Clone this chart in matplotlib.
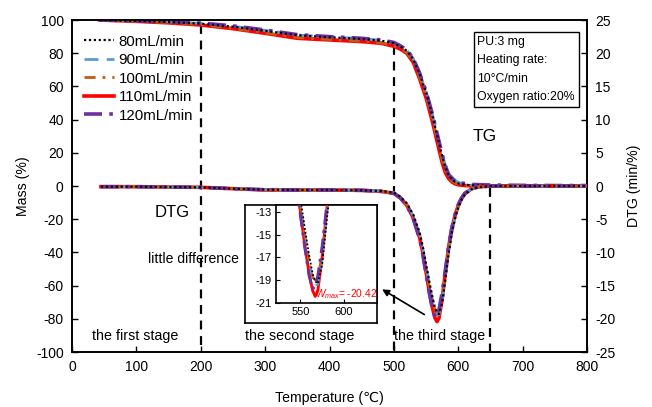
import numpy as np
import matplotlib
matplotlib.use("Agg")
import matplotlib.pyplot as plt

plt.rcParams['font.family'] = ['Liberation Sans', 'DejaVu Sans']
plt.rcParams['axes.unicode_minus'] = False
plt.rcParams['mathtext.fontset'] = 'custom'
plt.rcParams['mathtext.rm'] = 'Liberation Sans'
plt.rcParams['mathtext.it'] = 'Liberation Sans:italic'

# ---- data ----
labels = ['80mL/min', '90mL/min', '100mL/min', '110mL/min', '120mL/min']

# TG (mass %) vs temperature
tg_T = [43, 100, 150, 200, 250, 300, 350, 400, 450, 480, 500, 510, 520, 530, 540,
        550, 560, 570, 575, 580, 585, 590, 595, 600, 610, 620, 650, 700, 750, 800]
tg_80 = [100, 99.5, 98.8, 97.8, 96.0, 93.5, 90.8, 89.6, 88.6, 87.6, 86.0, 84.0, 81.5, 76.5, 67.5,
         56.5, 42.0, 26.0, 18.0, 11.5, 6.5, 4.0, 2.5, 1.5, 0.8, 0.4, 0.2, 0.1, 0.1, 0.1]
tg_90 = [100, 99.5, 98.9, 98.0, 96.2, 93.8, 91.0, 89.8, 88.8, 87.8, 86.3, 84.3, 81.8, 76.8, 68.0,
         57.0, 43.0, 27.0, 19.0, 12.5, 8.0, 5.5, 3.5, 2.2, 1.0, 0.6, 0.3, 0.2, 0.1, 0.1]
tg_100 = [100, 99.3, 98.4, 97.2, 95.0, 92.3, 89.4, 88.3, 87.3, 86.3, 84.5, 82.8, 80.5, 75.0, 65.5,
          54.0, 40.0, 23.5, 15.5, 9.5, 5.5, 3.0, 1.8, 1.0, 0.4, 0.2, 0.1, 0.0, 0.0, 0.0]
tg_110 = [100, 99.2, 98.3, 97.0, 94.8, 92.0, 89.0, 88.0, 87.0, 86.0, 84.2, 82.5, 80.0, 74.5, 64.5,
          53.0, 38.5, 22.0, 14.0, 8.0, 4.5, 2.5, 1.3, 0.7, 0.3, 0.1, 0.0, 0.0, 0.0, 0.0]
tg_120 = [100, 99.6, 99.0, 98.2, 96.5, 94.0, 91.2, 90.0, 89.0, 88.0, 86.5, 84.5, 82.0, 77.0, 68.0,
          57.0, 43.0, 27.0, 19.0, 12.0, 7.0, 4.5, 3.0, 2.2, 1.5, 1.0, 0.6, 0.4, 0.3, 0.3]

# DTG vs temperature
dtg_T = [45, 100, 150, 200, 250, 300, 350, 400, 450, 480, 500, 510, 520, 530, 540, 545,
         550, 555, 560, 564, 567, 570, 575, 580, 585, 590, 595, 600, 605, 610, 620, 630,
         650, 700, 750, 800]
dtg_80 = [-0.1, -0.1, -0.15, -0.2, -0.4, -0.55, -0.6, -0.6, -0.65, -0.75, -1.0, -1.6, -2.6, -4.3, -7.0, -9.2,
          -11.8, -14.4, -16.8, -18.4, -19.1, -19.3, -17.6, -14.0, -10.2, -7.1, -4.9, -3.2, -2.1, -1.3, -0.5, -0.2,
          0.0, 0.0, 0.0, 0.0]
dtg_90 = [-0.1, -0.1, -0.15, -0.2, -0.4, -0.55, -0.6, -0.6, -0.65, -0.75, -1.0, -1.7, -2.7, -4.5, -7.3, -9.5,
          -12.2, -14.8, -17.2, -18.8, -19.4, -19.4, -17.2, -13.6, -9.8, -6.8, -4.7, -3.1, -2.0, -1.2, -0.45, -0.15,
          0.0, 0.0, 0.0, 0.0]
dtg_100 = [-0.1, -0.1, -0.15, -0.2, -0.4, -0.6, -0.6, -0.6, -0.65, -0.8, -1.1, -1.8, -2.8, -4.7, -7.6, -9.8,
           -12.6, -15.2, -17.4, -18.7, -19.0, -18.7, -16.6, -13.2, -9.4, -6.5, -4.5, -3.0, -1.9, -1.2, -0.45, -0.15,
           0.0, 0.0, 0.0, 0.0]
dtg_110 = [-0.1, -0.1, -0.15, -0.2, -0.4, -0.6, -0.6, -0.6, -0.65, -0.8, -1.1, -1.8, -2.9, -4.8, -7.8, -10.1,
           -13.0, -15.9, -18.4, -19.9, -20.42, -19.9, -17.0, -13.0, -9.2, -6.4, -4.4, -2.9, -1.9, -1.2, -0.45, -0.15,
           0.0, 0.0, 0.0, 0.0]
dtg_120 = [-0.1, -0.1, -0.15, -0.2, -0.4, -0.55, -0.6, -0.6, -0.65, -0.8, -1.1, -1.8, -2.9, -4.9, -8.0, -10.4,
           -13.3, -16.1, -18.6, -19.8, -19.5, -18.6, -16.0, -12.6, -9.0, -6.3, -4.3, -2.8, -1.8, -1.1, -0.4, -0.15,
           0.0, 0.0, 0.0, 0.0]

tg_all = [tg_80, tg_90, tg_100, tg_110, tg_120]
dtg_all = [dtg_80, dtg_90, dtg_100, dtg_110, dtg_120]

# stage boundaries (x, top of line in mass %)
stage_x = [200, 500, 650]
stage_top = [97.0, 84.5, -1.0]

# ---- styles ----
colors = ['black', '#5B9BD5', '#C55A11', '#FF0000', '#7030A0']
styles = [(0, (1, 1.2)), (0, (5, 3)), (0, (4, 2.5, 1, 2.5)), '-', (0, (5, 2, 1, 2))]
widths = [1.6, 2.0, 2.0, 2.6, 2.6]
zords = [6, 4, 4, 3, 5]

fig = plt.figure(figsize=(6.52, 4.07), dpi=100)
ax = fig.add_axes([0.1104, 0.1351, 0.790, 0.8157])
ax2 = ax.twinx()

for i in range(5):
    ax.plot(tg_T, tg_all[i], color=colors[i], ls=styles[i], lw=widths[i], zorder=zords[i])
    ax2.plot(dtg_T, dtg_all[i], color=colors[i], ls=styles[i], lw=widths[i], zorder=zords[i],
             label=labels[i])

for x, top in zip(stage_x, stage_top):
    ax.plot([x, x], [top, -100], color='black', ls=(0, (4, 3)), lw=1.6, zorder=2)

ax.set_xlim(0, 800)
ax.set_ylim(-100, 100)
ax2.set_ylim(-25, 25)
ax.set_xticks(np.arange(0, 801, 100))
ax.set_yticks(np.arange(-100, 101, 20))
ax2.set_yticks(np.arange(-25, 26, 5))
for a in (ax, ax2):
    a.tick_params(direction='in', labelsize=10, length=4, width=1, pad=6)
    for s in a.spines.values():
        s.set_linewidth(1.2)
ax.set_xlabel('Temperature (℃)', fontsize=10.2, labelpad=12)
ax.set_ylabel('Mass (%)', fontsize=10.2, labelpad=4)
ax2.set_ylabel('DTG (min/%)', fontsize=10.2, labelpad=8)

ax.text(641, 30, 'TG', fontsize=12.5, ha='center', va='center')
ax.text(155, -15.7, 'DTG', fontsize=12, ha='center', va='center')
ax.text(188, -44, 'little difference', fontsize=10.1, ha='center', va='center')
ax.text(98, -90.5, 'the first stage', fontsize=10.3, ha='center', va='center')
ax.text(354, -90.5, 'the second stage', fontsize=10.3, ha='center', va='center')
ax.text(571, -90.5, 'the third stage', fontsize=10.3, ha='center', va='center')

ax.annotate('', xy=(478, -61.4), xytext=(551, -78.3),
            arrowprops=dict(arrowstyle='-|>', color='black', lw=1.2, mutation_scale=10))

ax2.legend(loc='upper left', bbox_to_anchor=(0.012, 0.974), borderaxespad=0, frameon=False,
           fontsize=10.8, handlelength=2.0, handletextpad=0.3, labelspacing=0.3)

ax2.text(0.787, 0.952, 'PU:3 mg\nHeating rate:\n10°C/min\nOxygen ratio:20%', transform=ax2.transAxes,
         fontsize=8.8, ha='left', va='top', linespacing=1.7,
         bbox=dict(boxstyle='square,pad=0.3', facecolor='white', edgecolor='black', lw=1))

# inset with outer frame
outer = fig.add_axes([0.3758, 0.2064, 0.2025, 0.2899])
outer.set_xticks([])
outer.set_yticks([])
outer.set_facecolor('white')
for s in outer.spines.values():
    s.set_linewidth(1.2)

ins = fig.add_axes([0.4233, 0.2555, 0.155, 0.2408])
for i in range(5):
    ins.plot(dtg_T, dtg_all[i], color=colors[i], ls=styles[i], lw=widths[i] * 0.8, zorder=zords[i])
ins.set_xlim(522, 638)
ins.set_ylim(-21, -12.4)
ins.set_xticks([550, 600])
ins.set_yticks([-13, -15, -17, -19, -21])
ins.tick_params(direction='in', labelsize=8, length=3, pad=3)
for s in ins.spines.values():
    s.set_linewidth(1.2)
ins.text(567, -20.2, r'$W_{max}$= -20.42', color='red', fontsize=7.3, ha='left', va='center')

fig.savefig('out.png', dpi=100)
